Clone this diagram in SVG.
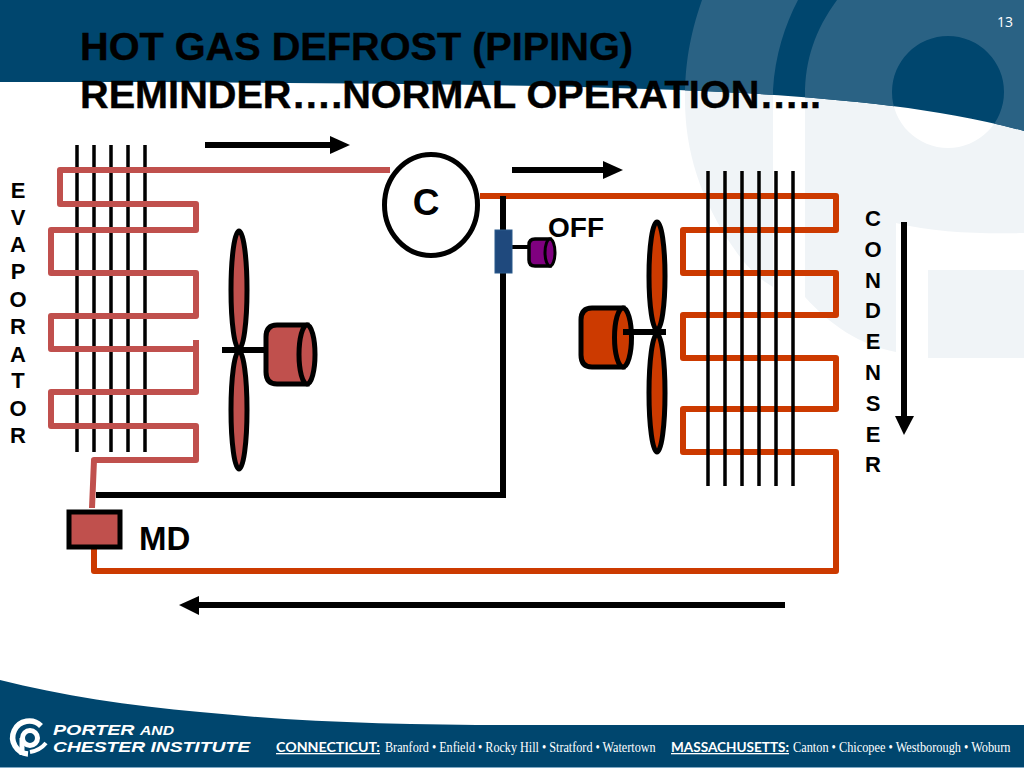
<svg xmlns="http://www.w3.org/2000/svg" xmlns:xlink="http://www.w3.org/1999/xlink" width="1024" height="768" viewBox="0 0 1024 768">
<style>
.sans{font-family:"Liberation Sans",Arial,sans-serif;font-weight:700;fill:#000}
.serif{font-family:"Liberation Serif","Times New Roman",serif;fill:#fff}
.state{font-family:Lato,"Noto Sans",sans-serif;font-weight:700;fill:#fff;text-decoration:underline}
.pipe{fill:none;stroke-width:6;stroke-linejoin:round;stroke-linecap:butt}
.evap{stroke:#C0504D}
.cond{stroke:#CC3A00}
.fin{stroke:#000;stroke-width:3.5;fill:none}
.blk{stroke:#000;fill:none;stroke-width:6}
.part{stroke:#000;stroke-width:5}
.red{fill:#C0504D}
.org{fill:#CC3A00}
.vert{font-size:22px;text-anchor:middle}
</style>
<defs>
<clipPath id="topband"><path d="M0 0H1024V131C940 108 850 100 760 94C600 84 300 82 0 82Z"/></clipPath>
<g id="mark">
<path d="M702 0C688 40 685 70 685 100C685 150 700 200 735 250C745 265 760 280 773 287V90C775 55 785 25 798 0Z"/>
<path fill-rule="evenodd" d="M837 0C815 30 805 60 805 95V297C830 325 860 345 896 352V223C935 233 985 234 1024 233V0ZM1004 92A56 56 0 1 0 892 92A56 56 0 1 0 1004 92Z"/>
<rect x="928" y="270" width="96" height="88"/>
</g>
</defs>
<g id="background">
<rect width="1024" height="768" fill="#fff"/>
<use xlink:href="#mark" href="#mark" fill="#F0F4F7"/>
<path d="M0 0H1024V131C940 108 850 100 760 94C600 84 300 82 0 82Z" fill="#00466E"/>
<g clip-path="url(#topband)"><use xlink:href="#mark" href="#mark" fill="#2A6284"/></g>
<path d="M0 680C60 695 130 706 200 712C300 722 400 725 512 725H1024V768H0Z" fill="#00466E"/>
<rect x="0" y="767" width="1024" height="1" fill="#7FA8C4"/>
</g>
<g id="title" class="sans" font-size="38" stroke="#000" stroke-width="0.4">
<text x="80" y="60" textLength="553" lengthAdjust="spacingAndGlyphs">HOT GAS DEFROST (PIPING)</text>
<text x="80" y="108" textLength="741" lengthAdjust="spacingAndGlyphs">REMINDER….NORMAL OPERATION…..</text>
</g>
<text id="page-number" x="1005" y="27" font-family="Open Sans,sans-serif" font-size="14" fill="#fff" text-anchor="middle">13</text>
<g id="connectors">
<g id="evaporator-fins" class="fin"><path d="M77 145V452M94 145V452M111 145V452M128 145V452M145 145V452"/></g>
<path class="pipe evap" d="M390 170H60V204H196V230H51V273H196V316H51V349H196M196 340V392H51V426H196V460H94L92 508"/>
<path class="pipe cond" d="M480 196H836V230H683V273H836V315H683V358H836V409H683V452H836V571H94V545"/>
<g id="condenser-fins" class="fin"><path d="M708 171V486M725 171V486M742 171V486M759 171V486M776 171V486M793 171V486"/></g>
<path class="blk" d="M503 196V495H96"/>
<path class="blk" style="stroke-width:4" d="M512 247H530"/>
<g id="flow-arrows">
<path class="blk" d="M205 145H332"/><path d="M350 145L330 136V154Z"/>
<path class="blk" d="M512 170H605"/><path d="M623 170L603 161V179Z"/>
<path class="blk" d="M785 605H197"/><path d="M179 605L199 596V615Z"/>
<path class="blk" d="M904 222V418"/><path d="M904 435L895 416H914Z"/>
</g>
</g>
<g id="compressor"><ellipse cx="431" cy="205" rx="46.5" ry="50.5" fill="#fff" stroke="#000" stroke-width="5"/><text class="sans" x="426" y="215" font-size="37" text-anchor="middle">C</text></g>
<g id="solenoid-valve"><rect x="495" y="230" width="17" height="43" fill="#1F497D" stroke="#2A5A8C"/></g>
<g id="valve-coil"><path d="M550 239H535Q529 239 529 245V260Q529 266 535 266H550Z" fill="#7F007F" stroke="#000" stroke-width="3.5"/><ellipse cx="550" cy="252.500" rx="5" ry="13.500" fill="#7F007F" stroke="#000" stroke-width="3"/></g>
<text id="off-label" class="sans" x="548" y="237" font-size="28">OFF</text>
<g id="evaporator-fan">
<ellipse class="part red" cx="239" cy="290" rx="8" ry="59"/><ellipse class="part red" cx="239" cy="410" rx="8" ry="59"/>
<path class="blk" d="M222 350H266"/>
<path class="part red" d="M307 325H277Q266 325 266 337V372Q266 384 277 384H307Z"/><ellipse class="part red" cx="307" cy="354.500" rx="8" ry="29.500"/>
</g>
<g id="condenser-fan">
<ellipse class="part org" cx="657" cy="276" rx="8" ry="54"/><ellipse class="part org" cx="657" cy="393" rx="8" ry="59"/>
<path class="part org" d="M623 308H592Q581 308 581 320V355Q581 367 592 367H623Z"/><ellipse class="part org" cx="623" cy="337.500" rx="8.500" ry="29.500"/>
<path class="blk" d="M623 332H666"/>
</g>
<g id="metering-device"><rect class="part red" x="69" y="512" width="51" height="35"/><text class="sans" x="139" y="550" font-size="33">MD</text></g>
<text id="evaporator-label" class="sans vert"><tspan x="18" y="198">E</tspan><tspan x="18" y="225">V</tspan><tspan x="18" y="252">A</tspan><tspan x="18" y="279">P</tspan><tspan x="18" y="307">O</tspan><tspan x="18" y="334">R</tspan><tspan x="18" y="362">A</tspan><tspan x="18" y="388">T</tspan><tspan x="18" y="416">O</tspan><tspan x="18" y="443">R</tspan></text>
<text id="condenser-label" class="sans vert"><tspan x="873" y="226">C</tspan><tspan x="873" y="257">O</tspan><tspan x="873" y="288">N</tspan><tspan x="873" y="318">D</tspan><tspan x="873" y="349">E</tspan><tspan x="873" y="380">N</tspan><tspan x="873" y="411">S</tspan><tspan x="873" y="442">E</tspan><tspan x="873" y="472">R</tspan></text>
<g id="footer">
<g id="logo" fill="none" stroke="#fff">
<path d="M41 726A16.500 16.500 0 1 0 28 754" stroke-width="5.500"/>
<circle cx="30" cy="738" r="7.500" stroke-width="5"/>
<path d="M22 738V755" stroke-width="5"/>
<path d="M30 752C36 751 42 748 46 743" stroke-width="4"/>
</g>
<g font-family="Liberation Sans,Arial,sans-serif" font-weight="700" font-style="italic" fill="#fff">
<text x="53" y="735" font-size="15" textLength="121" lengthAdjust="spacingAndGlyphs">PORTER <tspan font-size="12">AND</tspan></text>
<text x="53" y="752" font-size="15.500" textLength="197" lengthAdjust="spacingAndGlyphs">CHESTER INSTITUTE</text>
</g>
<text class="state" x="276" y="752" font-size="13" textLength="104" lengthAdjust="spacingAndGlyphs">CONNECTICUT:</text>
<text class="serif" transform="translate(385 752) scale(.87 1)" font-size="15" textLength="311" lengthAdjust="spacingAndGlyphs">Branford • Enfield • Rocky Hill • Stratford • Watertown</text>
<text class="state" x="671" y="752" font-size="13" textLength="118" lengthAdjust="spacingAndGlyphs">MASSACHUSETTS:</text>
<text class="serif" transform="translate(793 752) scale(.87 1)" font-size="15" textLength="250" lengthAdjust="spacingAndGlyphs">Canton • Chicopee • Westborough • Woburn</text>
</g>
</svg>
